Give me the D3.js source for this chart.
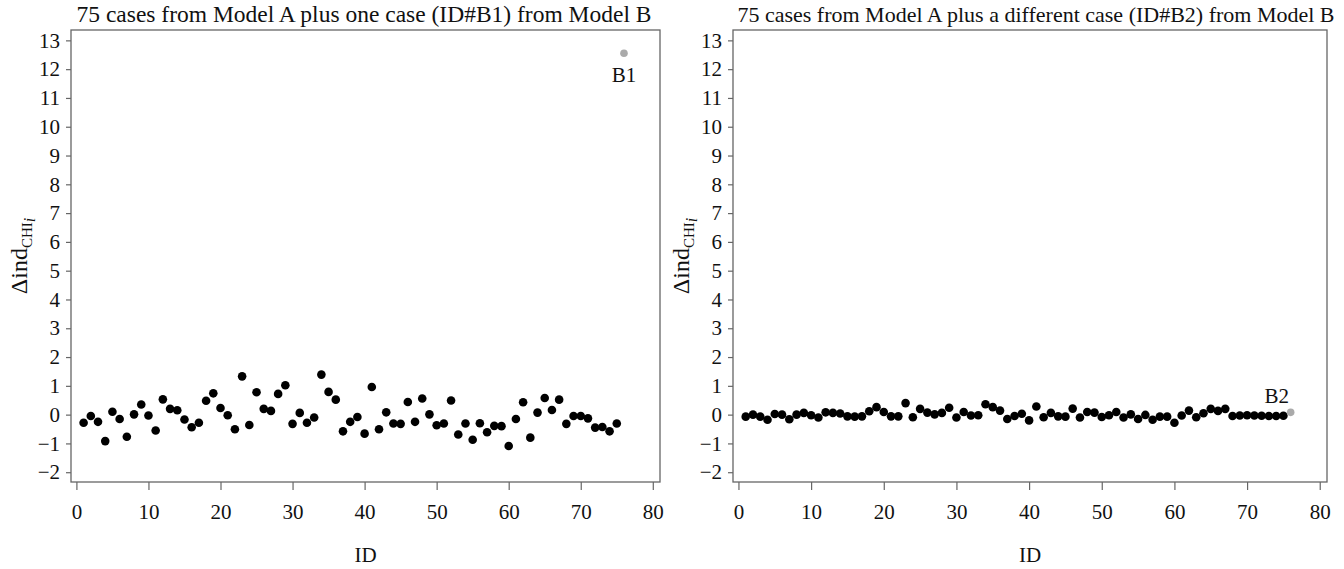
<!DOCTYPE html>
<html>
<head>
<meta charset="utf-8">
<script src="https://cdn.jsdelivr.net/npm/d3@7"></script>
<style>
  body { margin: 0; background: #fff; }
  svg { display: block; }
  .axis text { font-family: "Liberation Serif", "Times New Roman", serif; font-size: 21px; fill: #111; }
  .axis path, .axis line { stroke: #666; stroke-width: 1.2; }
  .title, .xlabel, .ylabel, .caselabel { font-family: "Liberation Serif", "Times New Roman", serif; fill: #111; }
</style>
</head>
<body>
<svg id="chart" width="1344" height="569"></svg>
<script>
// values, ID = position + 1
const modelA1 = [
    -0.28, -0.05, -0.25, -0.92, 0.10, -0.15, -0.77, 0.01, 0.35, -0.03,
    -0.55, 0.53, 0.20, 0.15, -0.17, -0.44, -0.28, 0.48, 0.74, 0.23,
    -0.02, -0.51, 1.33, -0.36, 0.78, 0.20, 0.13, 0.72, 1.02, -0.32,
    0.06, -0.28, -0.10, 1.39, 0.79, 0.52, -0.58, -0.25, -0.08, -0.66,
    0.96, -0.51, 0.08, -0.31, -0.32, 0.44, -0.25, 0.56, 0.01, -0.37,
    -0.31, 0.49, -0.69, -0.31, -0.87, -0.30, -0.61, -0.39, -0.40, -1.09,
    -0.15, 0.43, -0.80, 0.07, 0.58, 0.16, 0.52, -0.32, -0.05, -0.05,
    -0.13, -0.45, -0.43, -0.58, -0.31
];
const modelA2 = [
    -0.07, 0.00, -0.07, -0.18, 0.02, 0.00, -0.16, 0.00, 0.06, -0.02,
    -0.10, 0.08, 0.06, 0.04, -0.06, -0.07, -0.06, 0.12, 0.26, 0.09,
    -0.06, -0.06, 0.40, -0.09, 0.20, 0.07, 0.01, 0.06, 0.24, -0.10,
    0.09, -0.03, -0.02, 0.36, 0.26, 0.14, -0.15, -0.05, 0.03, -0.20,
    0.28, -0.09, 0.06, -0.06, -0.07, 0.21, -0.10, 0.09, 0.07, -0.08,
    -0.02, 0.09, -0.10, 0.01, -0.15, -0.01, -0.18, -0.07, -0.07, -0.28,
    -0.03, 0.14, -0.09, 0.05, 0.20, 0.13, 0.20, -0.05, -0.03, -0.02,
    -0.03, -0.04, -0.05, -0.05, -0.04
];
const caseB1 = { id: 76, v: 12.55, label: "B1" };
const caseB2 = { id: 76, v: 0.08, label: "B2" };
const titles = [
    "75 cases from Model A plus one case (ID#B1) from Model B",
    "75 cases from Model A plus a different case (ID#B2) from Model B"
];
const xTicks = [0, 10, 20, 30, 40, 50, 60, 70, 80];
const yTicks = [-2, -1, 0, 1, 2, 3, 4, 5, 6, 7, 8, 9, 10, 11, 12, 13];

const svg = d3.select("#chart");

const plotTop = 30, plotBottom = 482;
const y = d3.scaleLinear().domain([-2.34, 13.36]).range([plotBottom, plotTop]);

function drawPanel(left, right, values, extra, title, labelAbove, titleX, titleSize) {
    const x = d3.scaleLinear().domain([-0.75, 81]).range([left, right]);
    const g = svg.append("g");

    // frame
    g.append("rect")
        .attr("x", left).attr("y", plotTop)
        .attr("width", right - left).attr("height", plotBottom - plotTop)
        .attr("fill", "none").attr("stroke", "#666").attr("stroke-width", 1.3);

    g.append("g")
        .attr("class", "axis")
        .attr("transform", `translate(0, ${plotBottom})`)
        .call(d3.axisBottom(x).tickValues(xTicks).tickSize(8).tickPadding(14).tickSizeOuter(0))
        .call(a => a.select(".domain").remove());

    g.append("g")
        .attr("class", "axis")
        .attr("transform", `translate(${left}, 0)`)
        .call(d3.axisLeft(y).tickValues(yTicks).tickSize(5).tickPadding(6).tickFormat(d3.format("d")).tickSizeOuter(0))
        .call(a => a.select(".domain").remove());

    g.append("text")
        .attr("class", "title")
        .attr("x", titleX)
        .attr("y", 22)
        .attr("text-anchor", "middle")
        .style("font-size", titleSize + "px")
        .text(title);

    g.append("text")
        .attr("class", "xlabel")
        .attr("x", (left + right) / 2)
        .attr("y", 562)
        .attr("text-anchor", "middle")
        .style("font-size", "21px")
        .text("ID");

    const yl = g.append("text")
        .attr("class", "ylabel")
        .attr("transform", `translate(${left - 44}, ${(plotTop + plotBottom) / 2}) rotate(-90)`)
        .attr("text-anchor", "middle")
        .style("font-size", "24px");
    yl.append("tspan").text("Δind");
    yl.append("tspan").attr("dy", 5).style("font-size", "15px").text("CHI");
    yl.append("tspan").attr("dy", 3).style("font-size", "16px").style("font-style", "italic").text("i");

    const pts = values.map((v, i) => ({ id: i + 1, v }));
    g.append("g").selectAll("circle")
        .data(pts)
        .join("circle")
        .attr("cx", d => x(d.id))
        .attr("cy", d => y(d.v))
        .attr("r", 4.3)
        .attr("fill", "#000");

    g.append("circle")
        .attr("cx", x(extra.id))
        .attr("cy", y(extra.v))
        .attr("r", 3.8)
        .attr("fill", "#aaa");

    g.append("text")
        .attr("class", "caselabel")
        .attr("x", x(extra.id) + (labelAbove ? -14 : 0))
        .attr("y", y(extra.v) + (labelAbove ? -9 : 29))
        .attr("text-anchor", "middle")
        .style("font-size", "21px")
        .text(extra.label);
}

drawPanel(71, 660, modelA1, caseB1, titles[0], false, 364, 23.5);
drawPanel(733, 1327, modelA2, caseB2, titles[1], true, 1036, 22);
</script>
</body>
</html>
